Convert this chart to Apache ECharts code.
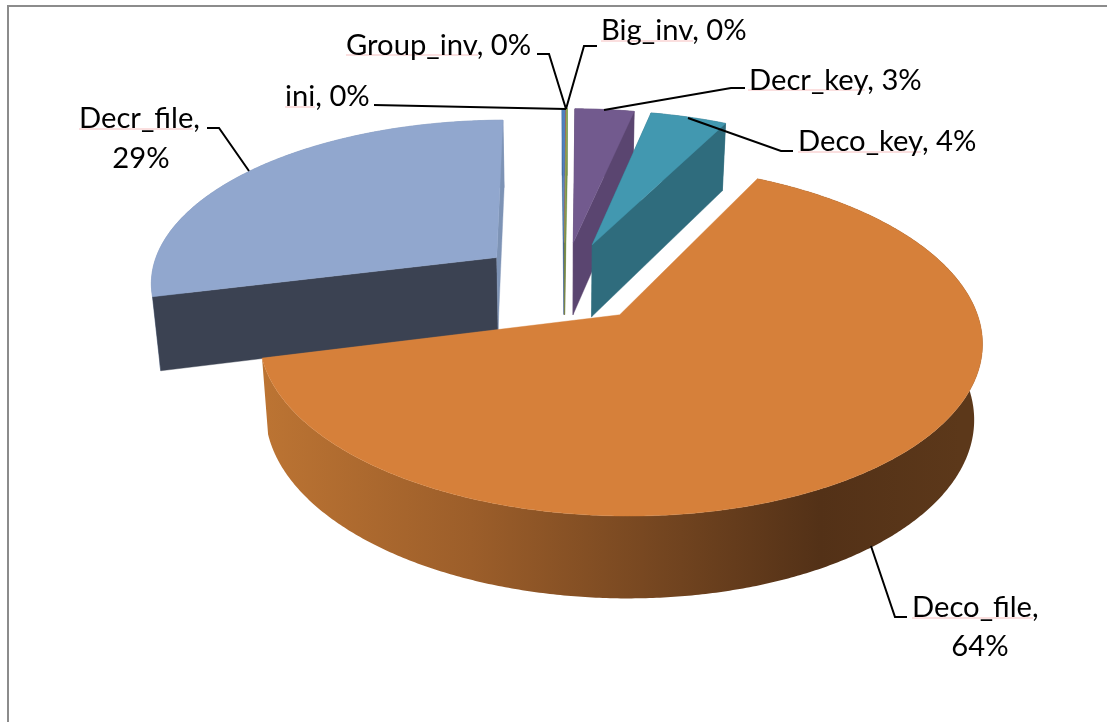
<!DOCTYPE html>
<html><head><meta charset="utf-8">
<style>html,body{margin:0;padding:0;background:#fff}#c{width:1107px;height:722px}</style>
<script src="https://cdn.jsdelivr.net/npm/echarts@6/dist/echarts.min.js"></script></head>
<body><div id="c"></div>
<script>
// Data, clockwise from the first slice (also the back-to-front draw order)
const categories = ['Deco_file','Decr_file','ini','Big_inv','Group_inv','Decr_key','Deco_key'];
const values     = [63.6, 28.8, 0.18, 0.01, 0.06, 3.2, 4.15];
const topColors  = ['#D6803A','#91A7CE','#4F81BD','#C0504D','#8FAE53','#725A8E','#4298B0'];
const endColors  = ['#A66228','#7D93B5','#3F6796','#993F3C','#73904A','#5A4570','#2F6C7D'];
const startColors= ['#A66228','#3B4252','#3F6796','#993F3C','#73904A','#5A4570','#2F6C7D'];

// Projection of the pie's plane (a tilted, exploded 3D pie)
const view = {cx:564, cy:282, A:348, B:163, k:0.14, explode:0.25, startAngle:27, xShrink:0.98};
const total = values.reduce((a,b)=>a+b,0);
const rad = d => d*Math.PI/180;
function project(u,v){const w=1-view.k*v;return [view.cx+view.A*u/w, view.cy+view.B*v/w];}
function drop(p){return [view.cx+(p[0]-view.cx)*view.xShrink, p[1]+73+0.038*(p[1]-270)];}

// Label placement (text anchor + leader polyline) by category
const labelLayout = {
  ini:      {lines:[{x:285,y:97}], leader:[[374,105],[566,109]], under:[[285,315,107]]},
  Group_inv:{lines:[{x:346,y:46}], leader:[[537,54],[549,54],[566,109]], under:[[346,478,55]]},
  Big_inv:  {lines:[{x:601,y:31}], leader:[[597,46],[584,46],[566,109]], under:[[601,693,41]]},
  Decr_key: {lines:[{x:749,y:81}], leader:[[745,88],[731,88],[604,110]], under:[[748,865,90]]},
  Deco_key: {lines:[{x:798,y:142}], leader:[[793,151],[781,151],[688,118]], under:[[798,921,152]]},
  Decr_file:{lines:[{x:79,y:119},{x:141,y:159,center:true}], leader:[[207,128],[219,128],[249,171]], under:[[79,193,129]]},
  Deco_file:{lines:[{x:912,y:608},{x:980,y:647,center:true}], leader:[[907,617],[895,617],[871,546]], under:[[912,1033,618]]}
};
const font = '29.2px Lato, "Open Sans", sans-serif';

function renderSlice(params, api){
  const i = params.dataIndex;
  const val = api.value(0);
  let before = 0; for(let j=0;j<i;j++) before += values[j];
  const a0 = view.startAngle + before/total*360;
  const a1 = a0 + val/total*360;
  const mid = rad((a0+a1)/2);
  const u0 = view.explode*Math.sin(mid), v0 = -view.explode*Math.cos(mid);
  const apex = project(u0,v0);
  const arc = [];
  const n = Math.max(2, Math.ceil(a1-a0)*2);
  for(let s=0;s<=n;s++){const t=rad(a0+(a1-a0)*s/n);arc.push(project(u0+Math.sin(t),v0-Math.cos(t)));}
  const arcB = arc.map(drop), apexB = drop(apex);
  const kids = [];
  const poly = (pts,fill,z)=>kids.push({type:'polygon',shape:{points:pts},z2:z,style:{fill:fill,stroke:typeof fill==='string'?fill:'#8a5228',lineWidth:typeof fill==='string'?0.4:0}});
  const sideFill = i===0 ? {type:'linear',x:262,y:0,x2:960,y2:0,global:true,colorStops:[
      {offset:0,color:'#BC7433'},{offset:0.3,color:'#9C5E2A'},{offset:0.6,color:'#70431F'},{offset:0.8,color:'#533117'},{offset:1,color:'#5C381A'}]} : endColors[i];
  poly(arc.concat(arcB.slice().reverse()), sideFill, 1);
  if(i!==0){
    poly([apex,arc[0],arcB[0],apexB], startColors[i], 2);
    poly([apex,arc[n],arcB[n],apexB], endColors[i], 2);
  }
  poly([apex].concat(arc), topColors[i], 3);

  const lay = labelLayout[categories[i]];
  const pct = Math.round(val/total*100)+'%';
  const two = lay.lines.length===2;
  const texts = two ? [categories[i]+',', pct] : [categories[i]+', '+pct];
  lay.lines.forEach((l,k)=>kids.push({type:'text',z2:11,style:{x:l.x,y:l.y,text:texts[k],font:font,fill:'#000',
      align:l.center?'center':'left',verticalAlign:'middle'}}));
  kids.push({type:'polyline',z2:10,shape:{points:lay.leader},style:{fill:'none',stroke:'#000',lineWidth:2}});
  lay.under.forEach(u=>kids.push({type:'line',z2:9,shape:{x1:u[0],y1:u[2],x2:u[1],y2:u[2]},style:{stroke:'#F6BFBF',lineWidth:1}}));
  return {type:'group',children:kids};
}

const chart = echarts.init(document.getElementById('c'),null,{renderer:'canvas'});
chart.setOption({
  backgroundColor:'#fff',
  animation:false,
  graphic:[{type:'polyline',shape:{points:[[8,722],[8,6],[1107,6]]},style:{fill:'none',stroke:'#8C8C8C',lineWidth:2},z:0}],
  series:[{type:'custom',coordinateSystem:'none',renderItem:renderSlice,silent:true,clip:false,
    data:categories.map((c,i)=>({name:c,value:[values[i]]}))}]
});
</script></body></html>
